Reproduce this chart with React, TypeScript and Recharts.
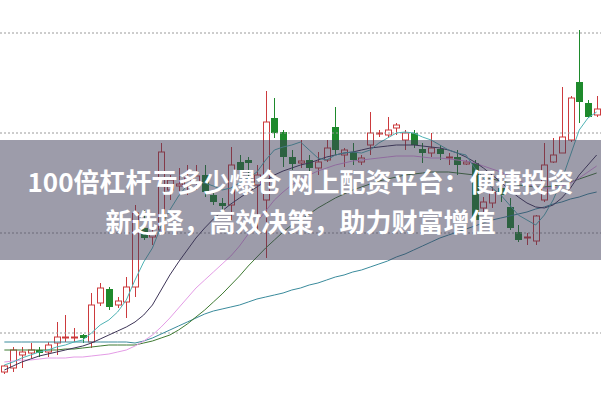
import { Bar, ComposedChart, Line, ReferenceLine, XAxis, YAxis } from "recharts";

// OHLC per trading day
const opens = [
  8.61, 8.65, 8.78, 8.8, 8.83, 8.81, 8.9, 8.95, 8.95, 8.98, 8.91, 9.3, 9.44, 9.28, 9.31, 9.46, 10.05, 9.96, 10.03, 10.43,
  10.47, 10.48, 10.5, 10.58, 10.38, 10.3, 10.28, 10.71, 10.73, 10.48, 10.33, 11.15, 11.01, 10.76, 10.7, 10.73, 10.65, 10.73, 11.06, 10.78,
  10.81, 10.71, 10.88, 10.99, 10.98, 11.05, 10.93, 11.0, 10.84, 10.8, 10.84, 10.75, 10.76, 10.69, 10.7, 10.25, 10.3, 10.45, 10.26, 10.01,
  9.95, 9.92, 10.33, 10.71, 10.8, 10.93, 11.51, 11.3, 11.18,
];
const closes = [
  8.67, 8.83, 8.81, 8.83, 8.8, 8.88, 8.96, 8.96, 8.96, 8.95, 9.28, 9.45, 9.26, 9.32, 9.46, 10.2, 9.95, 10.0, 10.81, 10.53,
  10.49, 10.55, 10.57, 10.41, 10.31, 10.27, 10.68, 10.63, 10.7, 10.58, 11.11, 11.0, 10.76, 10.69, 10.72, 10.65, 10.71, 10.85, 10.83, 10.83,
  10.73, 10.75, 11.0, 11.0, 11.03, 11.08, 11.0, 10.88, 10.8, 10.85, 10.79, 10.76, 10.68, 10.71, 10.13, 10.31, 10.41, 10.38, 10.05, 9.93,
  9.96, 10.17, 10.68, 10.78, 10.96, 11.35, 11.31, 11.16, 11.24,
];
const highs = [
  8.68, 8.86, 8.86, 8.9, 8.86, 8.91, 9.11, 9.18, 9.05, 8.99, 9.4, 9.5, 9.46, 9.36, 9.56, 10.28, 10.23, 10.05, 10.9, 10.58,
  10.65, 10.68, 10.68, 10.68, 10.43, 10.35, 10.86, 10.78, 10.76, 10.68, 11.42, 11.35, 11.03, 10.83, 10.93, 10.78, 10.81, 10.93, 11.26, 10.85,
  10.9, 10.78, 11.21, 11.03, 11.16, 11.1, 11.03, 11.03, 10.9, 11.0, 10.88, 10.8, 10.83, 10.73, 10.73, 10.36, 10.46, 10.5, 10.35, 10.08,
  10.0, 10.18, 10.9, 10.95, 11.46, 11.37, 12.03, 11.33, 11.37,
];
const lows = [
  8.59, 8.61, 8.65, 8.75, 8.76, 8.76, 8.78, 8.91, 8.91, 8.9, 8.85, 9.27, 9.23, 9.25, 9.15, 9.36, 9.93, 9.88, 9.98, 10.33,
  10.41, 10.38, 10.43, 10.36, 10.28, 10.23, 10.13, 10.55, 10.53, 10.03, 9.75, 10.95, 10.66, 10.63, 10.65, 10.55, 10.58, 10.71, 10.78, 10.66,
  10.68, 10.68, 10.78, 10.96, 10.96, 10.98, 10.83, 10.85, 10.7, 10.76, 10.73, 10.68, 10.58, 10.68, 10.08, 10.21, 10.25, 10.31, 10.03, 9.91,
  9.88, 9.88, 10.31, 10.7, 10.8, 10.91, 11.1, 11.15, 11.16,
];

// moving averages
const ma5 = [
  8.68, 8.71, 8.75, 8.78, 8.81, 8.83, 8.86, 8.88, 8.91, 8.93, 9.0, 9.08, 9.13, 9.21, 9.33, 9.53, 9.71, 9.85, 10.07, 10.23,
  10.37, 10.48, 10.51, 10.5, 10.47, 10.43, 10.45, 10.5, 10.55, 10.61, 10.73, 10.83, 10.86, 10.88, 10.91, 10.83, 10.75, 10.73, 10.78, 10.8,
  10.81, 10.8, 10.83, 10.9, 10.95, 11.0, 11.01, 11.0, 10.96, 10.93, 10.88, 10.83, 10.8, 10.78, 10.65, 10.55, 10.45, 10.38, 10.28, 10.18,
  10.13, 10.08, 10.18, 10.33, 10.53, 10.78, 11.03, 11.15, 11.21,
];
const ma10 = [
  8.63, 8.67, 8.71, 8.74, 8.77, 8.79, 8.81, 8.83, 8.85, 8.87, 8.9, 8.94, 8.98, 9.02, 9.06, 9.11, 9.18, 9.28, 9.43, 9.58,
  9.71, 9.83, 9.95, 10.05, 10.14, 10.22, 10.29, 10.35, 10.41, 10.46, 10.52, 10.58, 10.62, 10.65, 10.68, 10.7, 10.73, 10.76, 10.78, 10.8,
  10.81, 10.83, 10.85, 10.86, 10.87, 10.88, 10.88, 10.88, 10.87, 10.86, 10.85, 10.83, 10.8, 10.76, 10.71, 10.65, 10.58, 10.51, 10.43, 10.36,
  10.3, 10.26, 10.25, 10.28, 10.35, 10.45, 10.58, 10.68, 10.78,
];
const ma20 = [
  8.71, 8.72, 8.73, 8.73, 8.74, 8.75, 8.75, 8.75, 8.76, 8.76, 8.77, 8.78, 8.79, 8.81, 8.83, 8.87, 8.92, 8.98, 9.06, 9.15,
  9.25, 9.35, 9.45, 9.53, 9.61, 9.69, 9.77, 9.87, 9.99, 10.11, 10.22, 10.33, 10.41, 10.48, 10.54, 10.58, 10.62, 10.65, 10.68, 10.7,
  10.72, 10.73, 10.74, 10.75, 10.76, 10.77, 10.77, 10.77, 10.76, 10.75, 10.75, 10.74, 10.73, 10.72, 10.7, 10.67, 10.64, 10.61, 10.57, 10.53,
  10.49, 10.46, 10.45, 10.45, 10.47, 10.5, 10.55, 10.61, 10.67,
];
const ma30 = [
  8.83, 8.83, 8.83, 8.83, 8.83, 8.83, 8.83, 8.84, 8.84, 8.85, 8.86, 8.87, 8.88, 8.88, 8.88, 8.88, 8.9, 8.92, 8.95, 8.98,
  9.03, 9.09, 9.16, 9.23, 9.31, 9.39, 9.48, 9.57, 9.67, 9.76, 9.85, 9.93, 10.01, 10.08, 10.13, 10.19, 10.25, 10.3, 10.35, 10.39,
  10.43, 10.46, 10.49, 10.52, 10.54, 10.56, 10.58, 10.59, 10.6, 10.61, 10.61, 10.61, 10.6, 10.59, 10.58, 10.56, 10.54, 10.52, 10.5, 10.48,
  10.47, 10.46, 10.46, 10.47, 10.49, 10.51, 10.54, 10.57, 10.6,
];
const ma60 = [
  8.91, 8.91, 8.91, 8.91, 8.91, 8.91, 8.91, 8.91, 8.91, 8.91, 8.91, 8.91, 8.91, 8.91, 8.91, 8.9, 8.92, 8.95, 8.99, 9.03,
  9.07, 9.11, 9.15, 9.19, 9.22, 9.24, 9.26, 9.28, 9.31, 9.34, 9.36, 9.38, 9.4, 9.43, 9.45, 9.48, 9.5, 9.53, 9.56, 9.58,
  9.61, 9.63, 9.66, 9.69, 9.72, 9.76, 9.79, 9.83, 9.87, 9.91, 9.95, 9.98, 10.01, 10.04, 10.07, 10.1, 10.13, 10.15, 10.17, 10.19,
  10.21, 10.24, 10.26, 10.29, 10.31, 10.34, 10.36, 10.39, 10.41,
];

const gridPrices = [9, 10, 11, 12];
const titleLines = ["100倍杠杆亏多少爆仓 网上配资平台：便捷投资", "新选择，高效决策，助力财富增值"];

const data = opens.map((open, i) => ({
  day: i,
  open,
  close: closes[i],
  high: highs[i],
  low: lows[i],
  ma5: ma5[i],
  ma10: ma10[i],
  ma20: ma20[i],
  ma30: ma30[i],
  ma60: ma60[i],
}));

const UP = "#cc3a3d";
const DOWN = "#1e8a2c";

function Candle(props: any) {
  const { x, y, width, height, payload } = props;
  const { open, close, high, low } = payload;
  const top = Math.min(y, y + height);
  const h = Math.abs(height);
  const k = h / (high - low);
  const yo = top + (high - open) * k;
  const yc = top + (high - close) * k;
  const up = close >= open;
  const color = up ? UP : DOWN;
  const cx = Math.round(x + width / 2) + 0.5;
  const bodyTop = Math.min(yo, yc);
  const bodyH = Math.max(Math.abs(yo - yc), 1);
  return (
    <g>
      <line x1={cx} x2={cx} y1={top} y2={top + h} stroke={color} strokeWidth={1} />
      {up ? (
        <rect x={cx - 3} y={bodyTop} width={6} height={bodyH} fill="#fff" stroke={color} strokeWidth={1} />
      ) : (
        <rect x={cx - 3.5} y={bodyTop} width={7} height={bodyH} fill={color} />
      )}
    </g>
  );
}

const maLines = [
  { key: "ma60", color: "#3a8b9c" },
  { key: "ma30", color: "#3f7a32" },
  { key: "ma20", color: "#e49ce6" },
  { key: "ma10", color: "#3d3457" },
  { key: "ma5", color: "#4fb3b5" },
];

export default function App() {
  return (
    <div style={{ position: "fixed", left: 0, top: 0, width: 601, height: 401, background: "#fff" }}>
      <ComposedChart width={601} height={401} data={data} margin={{ top: 0, right: 0, bottom: 0, left: 0 }}>
        <XAxis dataKey="day" hide />
        <YAxis hide domain={[8.32, 12.33]} allowDataOverflow />
        {gridPrices.map((p) => (
          <ReferenceLine key={p} y={p} stroke="#9a9a9a" strokeDasharray="2 2" />
        ))}
        {maLines.map((m) => (
          <Line
            key={m.key}
            dataKey={m.key}
            stroke={m.color}
            dot={false}
            activeDot={false}
            strokeWidth={1}
            isAnimationActive={false}
          />
        ))}
        <Bar dataKey={(d: any) => [d.low, d.high]} shape={Candle} isAnimationActive={false} />
      </ComposedChart>
      <div
        style={{
          position: "absolute",
          left: 0,
          top: 140,
          width: 601,
          height: 120,
          background: "rgba(60,58,85,0.5)",
          color: "#fff",
          fontFamily: "'Noto Sans CJK SC', 'Noto Sans', sans-serif",
          fontWeight: 700,
          fontSize: 26,
          whiteSpace: "nowrap",
        }}
      >
        {titleLines.map((t, i) => (
          <div
            key={t}
            style={{ position: "absolute", left: 0, width: 601, textAlign: "center", top: 21 + i * 40, lineHeight: "40px" }}
          >
            {t}
          </div>
        ))}
      </div>
    </div>
  );
}
